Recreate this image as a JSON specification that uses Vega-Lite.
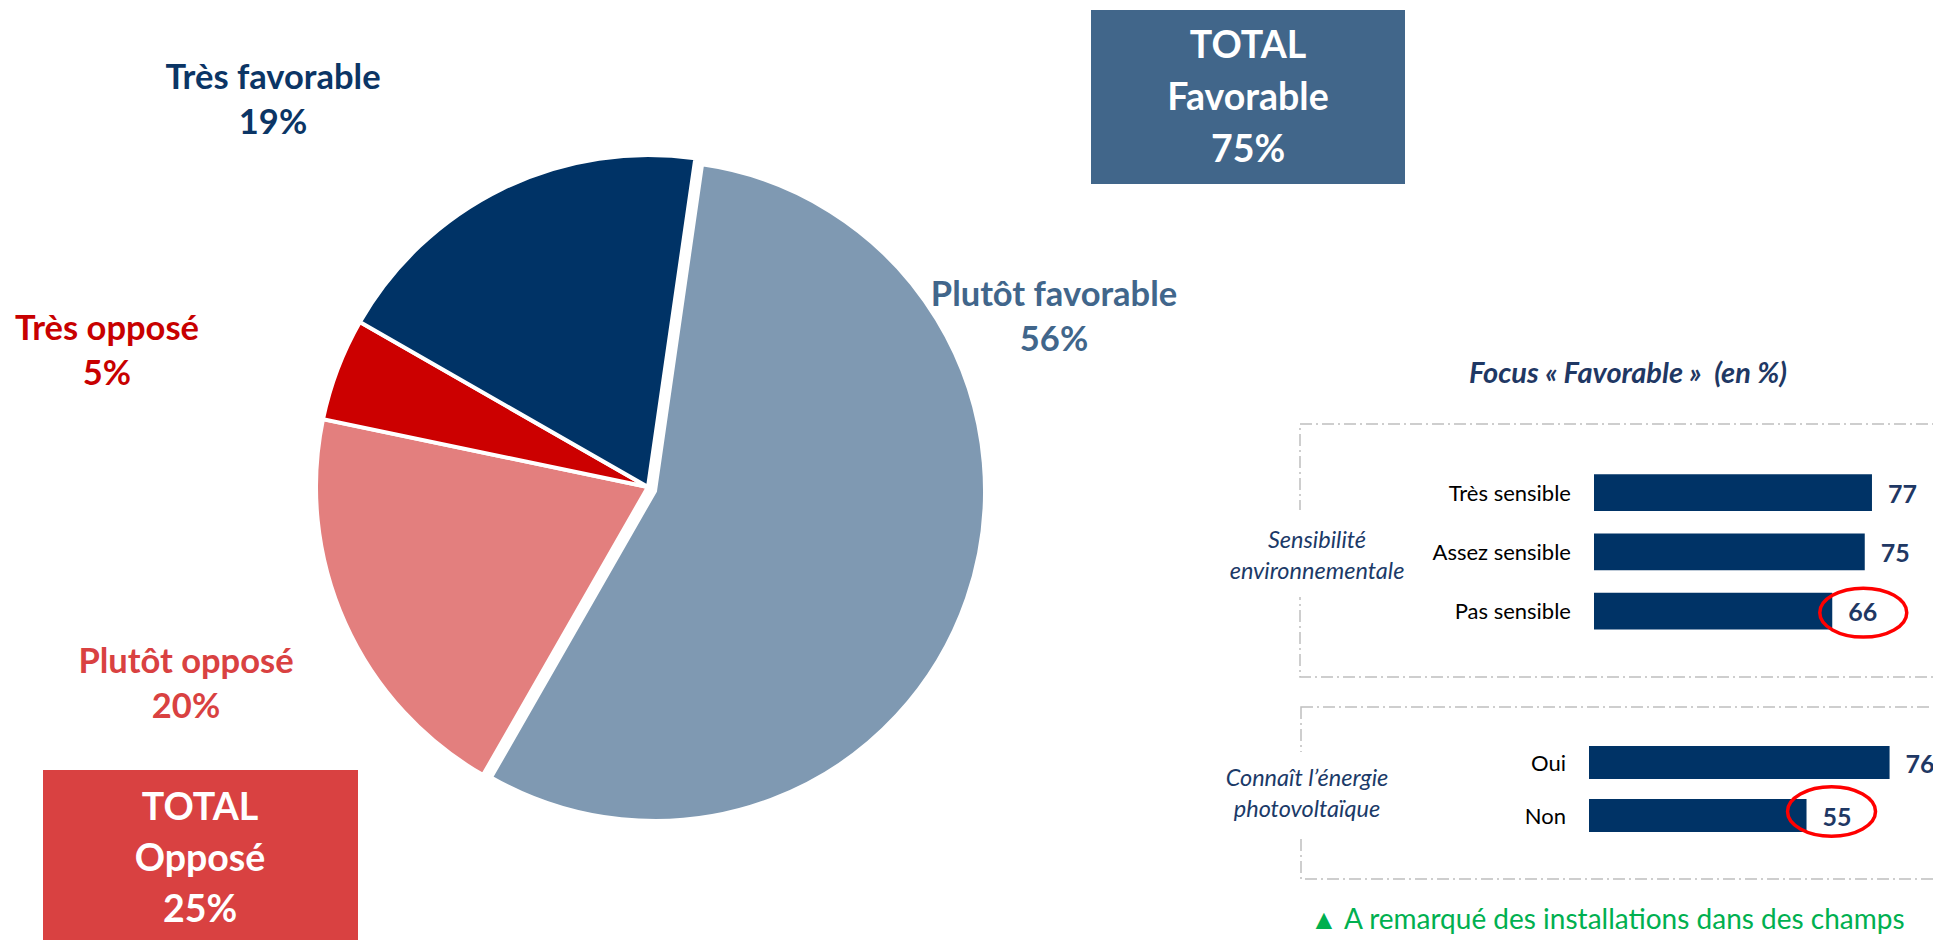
{
  "$schema": "https://vega.github.io/schema/vega-lite/v6.json",
  "width": 1933,
  "height": 940,
  "padding": 0,
  "autosize": {"type": "none"},
  "background": "white",
  "config": {"view": {"stroke": null}, "font": "Lato", "text": {"font": "Lato"}},
  "datasets": {
    "pie": [
      {"cat": "Plutôt favorable", "value": 56, "ord": 1},
      {"cat": "Plutôt opposé", "value": 20, "ord": 2},
      {"cat": "Très opposé", "value": 5, "ord": 3},
      {"cat": "Très favorable", "value": 19, "ord": 4}
    ],
    "totals": [
      {"group": "Favorable", "total": 75},
      {"group": "Opposé", "total": 25}
    ],
    "sens": [
      {"cat": "Très sensible", "value": 77},
      {"cat": "Assez sensible", "value": 75},
      {"cat": "Pas sensible", "value": 66}
    ],
    "pv": [
      {"cat": "Oui", "value": 76},
      {"cat": "Non", "value": 55}
    ]
  },
  "layer": [
    {"data": {"values": [{}]}, "mark": {"type": "rect", "x": 1300, "x2": 1960, "y": 424, "y2": 677, "fillOpacity": 0, "stroke": "#BFBFBF", "strokeWidth": 1.5, "strokeDash": [12, 4, 2, 4]}, "encoding": {}},
    {"data": {"values": [{}]}, "mark": {"type": "rect", "x": 1301, "x2": 1960, "y": 707, "y2": 879, "fillOpacity": 0, "stroke": "#BFBFBF", "strokeWidth": 1.5, "strokeDash": [12, 4, 2, 4]}, "encoding": {}},
    {"data": {"values": [{}]}, "mark": {"type": "rect", "x": 1290, "x2": 1312, "y": 510, "y2": 597, "fill": "white"}, "encoding": {}},
    {"data": {"values": [{}]}, "mark": {"type": "rect", "x": 1290, "x2": 1312, "y": 752, "y2": 835, "fill": "white"}, "encoding": {}},
    {
      "data": {"name": "pie"},
      "mark": {"type": "arc", "radius": 332, "x": 648, "y": 487, "stroke": "white", "strokeWidth": 4},
      "encoding": {
        "theta": {"field": "value", "type": "quantitative", "stack": true, "scale": {"domain": [0, 100], "range": [0.1431, 6.4263]}},
        "order": {"field": "ord", "type": "quantitative"},
        "color": {"field": "cat", "type": "nominal", "legend": null, "scale": {"domain": ["Plutôt favorable", "Plutôt opposé", "Très opposé", "Très favorable"], "range": ["#7F99B2", "#E37F7E", "#CC0000", "#003366"]}},
        "opacity": {"condition": {"test": "datum.cat === 'Plutôt favorable'", "value": 0}, "value": 1}
      }
    },
    {
      "data": {"name": "pie"},
      "mark": {"type": "arc", "radius": 330, "x": 655, "y": 491, "stroke": "white", "strokeWidth": 4},
      "encoding": {
        "theta": {"field": "value", "type": "quantitative", "stack": true, "scale": {"domain": [0, 100], "range": [0.1431, 6.4263]}},
        "order": {"field": "ord", "type": "quantitative"},
        "color": {"field": "cat", "type": "nominal", "legend": null, "scale": {"domain": ["Plutôt favorable", "Plutôt opposé", "Très opposé", "Très favorable"], "range": ["#7F99B2", "#E37F7E", "#CC0000", "#003366"]}},
        "opacity": {"condition": {"test": "datum.cat === 'Plutôt favorable'", "value": 1}, "value": 0}
      }
    },
    {
      "data": {"name": "pie"},
      "transform": [{"filter": "datum.cat === 'Très favorable'"}, {"calculate": "datum.cat + '\\n' + datum.value + '%'", "as": "label"}],
      "mark": {"type": "text", "x": 273, "y": 89, "align": "center", "baseline": "alphabetic", "lineBreak": "\n", "lineHeight": 45, "fontSize": 34.5, "fontWeight": "bold", "color": "#0B3565"},
      "encoding": {"text": {"field": "label"}}
    },
    {
      "data": {"name": "pie"},
      "transform": [{"filter": "datum.cat === 'Très opposé'"}, {"calculate": "datum.cat + '\\n' + datum.value + '%'", "as": "label"}],
      "mark": {"type": "text", "x": 107, "y": 340, "align": "center", "baseline": "alphabetic", "lineBreak": "\n", "lineHeight": 45, "fontSize": 34.5, "fontWeight": "bold", "color": "#C80000"},
      "encoding": {"text": {"field": "label"}}
    },
    {
      "data": {"name": "pie"},
      "transform": [{"filter": "datum.cat === 'Plutôt opposé'"}, {"calculate": "datum.cat + '\\n' + datum.value + '%'", "as": "label"}],
      "mark": {"type": "text", "x": 186, "y": 673, "align": "center", "baseline": "alphabetic", "lineBreak": "\n", "lineHeight": 45, "fontSize": 34.5, "fontWeight": "bold", "color": "#D94141"},
      "encoding": {"text": {"field": "label"}}
    },
    {
      "data": {"name": "pie"},
      "transform": [{"filter": "datum.cat === 'Plutôt favorable'"}, {"calculate": "datum.cat + '\\n' + datum.value + '%'", "as": "label"}],
      "mark": {"type": "text", "x": 1054, "y": 306, "align": "center", "baseline": "alphabetic", "lineBreak": "\n", "lineHeight": 45, "fontSize": 34.5, "fontWeight": "bold", "color": "#41668B"},
      "encoding": {"text": {"field": "label"}}
    },
    {"data": {"values": [{}]}, "mark": {"type": "rect", "x": 1091, "x2": 1405, "y": 10, "y2": 184, "fill": "#41668A"}, "encoding": {}},
    {"data": {"values": [{}]}, "mark": {"type": "rect", "x": 43, "x2": 358, "y": 770, "y2": 940, "fill": "#D94141"}, "encoding": {}},
    {
      "data": {"name": "totals"},
      "transform": [{"filter": "datum.group === 'Favorable'"}, {"calculate": "'TOTAL\\n' + datum.group + '\\n' + datum.total + '%'", "as": "label"}],
      "mark": {"type": "text", "x": 1248, "y": 58, "align": "center", "baseline": "alphabetic", "lineBreak": "\n", "lineHeight": 52, "fontSize": 37.5, "fontWeight": "bold", "color": "white"},
      "encoding": {"text": {"field": "label"}}
    },
    {
      "data": {"name": "totals"},
      "transform": [{"filter": "datum.group === 'Opposé'"}, {"calculate": "'TOTAL\\n' + datum.group + '\\n' + datum.total + '%'", "as": "label"}],
      "mark": {"type": "text", "x": 200, "y": 820, "align": "center", "baseline": "alphabetic", "lineBreak": "\n", "lineHeight": 51, "fontSize": 37.5, "fontWeight": "bold", "color": "white"},
      "encoding": {"text": {"field": "label"}}
    },
    {
      "data": {"values": [{"t": "Focus « Favorable » \u00a0(en %)"}]},
      "mark": {"type": "text", "x": 1628, "y": 383, "align": "center", "baseline": "alphabetic", "fontSize": 29, "fontWeight": "bold", "fontStyle": "italic", "color": "#1F3864"},
      "encoding": {"text": {"field": "t"}}
    },
    {
      "data": {"values": [{"t": "Sensibilité\nenvironnementale"}]},
      "mark": {"type": "text", "x": 1317, "y": 548, "align": "center", "baseline": "alphabetic", "lineBreak": "\n", "lineHeight": 31, "fontSize": 23.5, "fontStyle": "italic", "color": "#1B3A68"},
      "encoding": {"text": {"field": "t"}}
    },
    {
      "data": {"values": [{"t": "Connaît l’énergie\nphotovoltaïque"}]},
      "mark": {"type": "text", "x": 1307, "y": 786, "align": "center", "baseline": "alphabetic", "lineBreak": "\n", "lineHeight": 31, "fontSize": 23.5, "fontStyle": "italic", "color": "#1B3A68"},
      "encoding": {"text": {"field": "t"}}
    },
    {
      "data": {"name": "sens"},
      "mark": {"type": "bar", "color": "#003366"},
      "encoding": {
        "x": {"field": "value", "type": "quantitative", "scale": {"domain": [0, 100], "range": [1594, 1955]}, "axis": null},
        "y": {"field": "cat", "type": "nominal", "scale": {"domain": ["Très sensible", "Assez sensible", "Pas sensible"], "range": [463, 640.75], "paddingInner": 0.376, "paddingOuter": 0.188}, "axis": null}
      }
    },
    {
      "data": {"name": "sens"},
      "mark": {"type": "text", "align": "right", "baseline": "middle", "dx": -23, "dy": 1, "fontSize": 22, "color": "#000000"},
      "encoding": {
        "x": {"datum": 0, "type": "quantitative", "scale": {"domain": [0, 100], "range": [1594, 1955]}, "axis": null},
        "y": {"field": "cat", "type": "nominal", "scale": {"domain": ["Très sensible", "Assez sensible", "Pas sensible"], "range": [463, 640.75], "paddingInner": 0.376, "paddingOuter": 0.188}, "axis": null},
        "text": {"field": "cat"}
      }
    },
    {
      "data": {"name": "sens"},
      "mark": {"type": "text", "align": "left", "baseline": "middle", "dx": 16, "dy": 2, "fontSize": 25, "fontWeight": "bold", "color": "#1F3864"},
      "encoding": {
        "x": {"field": "value", "type": "quantitative", "scale": {"domain": [0, 100], "range": [1594, 1955]}, "axis": null},
        "y": {"field": "cat", "type": "nominal", "scale": {"domain": ["Très sensible", "Assez sensible", "Pas sensible"], "range": [463, 640.75], "paddingInner": 0.376, "paddingOuter": 0.188}, "axis": null},
        "text": {"field": "value", "type": "quantitative"}
      }
    },
    {
      "data": {"name": "sens"},
      "transform": [{"filter": "datum.cat === 'Pas sensible'"}],
      "mark": {"type": "point", "shape": "M -1 0 C -1 -0.311 -0.552 -0.563 0 -0.563 C 0.552 -0.563 1 -0.311 1 0 C 1 0.311 0.552 0.563 0 0.563 C -0.552 0.563 -1 0.311 -1 0 Z", "size": 7569, "filled": false, "stroke": "#FF0000", "strokeWidth": 3.5, "opacity": 1, "xOffset": 31, "yOffset": 1.5},
      "encoding": {
        "x": {"field": "value", "type": "quantitative", "scale": {"domain": [0, 100], "range": [1594, 1955]}, "axis": null},
        "y": {"field": "cat", "type": "nominal", "scale": {"domain": ["Très sensible", "Assez sensible", "Pas sensible"], "range": [463, 640.75], "paddingInner": 0.376, "paddingOuter": 0.188}, "axis": null}
      }
    },
    {
      "data": {"name": "pv"},
      "mark": {"type": "bar", "color": "#003366"},
      "encoding": {
        "x": {"field": "value", "type": "quantitative", "scale": {"domain": [0, 100], "range": [1589, 1984.5]}, "axis": null},
        "y": {"field": "cat", "type": "nominal", "scale": {"domain": ["Oui", "Non"], "range": [736, 842], "paddingInner": 0.377, "paddingOuter": 0.189}, "axis": null}
      }
    },
    {
      "data": {"name": "pv"},
      "mark": {"type": "text", "align": "right", "baseline": "middle", "dx": -23, "dy": 1, "fontSize": 22, "color": "#000000"},
      "encoding": {
        "x": {"datum": 0, "type": "quantitative", "scale": {"domain": [0, 100], "range": [1589, 1984.5]}, "axis": null},
        "y": {"field": "cat", "type": "nominal", "scale": {"domain": ["Oui", "Non"], "range": [736, 842], "paddingInner": 0.377, "paddingOuter": 0.189}, "axis": null},
        "text": {"field": "cat"}
      }
    },
    {
      "data": {"name": "pv"},
      "mark": {"type": "text", "align": "left", "baseline": "middle", "dx": 16, "dy": 2, "fontSize": 25, "fontWeight": "bold", "color": "#1F3864"},
      "encoding": {
        "x": {"field": "value", "type": "quantitative", "scale": {"domain": [0, 100], "range": [1589, 1984.5]}, "axis": null},
        "y": {"field": "cat", "type": "nominal", "scale": {"domain": ["Oui", "Non"], "range": [736, 842], "paddingInner": 0.377, "paddingOuter": 0.189}, "axis": null},
        "text": {"field": "value", "type": "quantitative"}
      }
    },
    {
      "data": {"name": "pv"},
      "transform": [{"filter": "datum.cat === 'Non'"}],
      "mark": {"type": "point", "shape": "M -1 0 C -1 -0.311 -0.552 -0.563 0 -0.563 C 0.552 -0.563 1 -0.311 1 0 C 1 0.311 0.552 0.563 0 0.563 C -0.552 0.563 -1 0.311 -1 0 Z", "size": 7744, "filled": false, "stroke": "#FF0000", "strokeWidth": 3.5, "opacity": 1, "xOffset": 25, "yOffset": -4},
      "encoding": {
        "x": {"field": "value", "type": "quantitative", "scale": {"domain": [0, 100], "range": [1589, 1984.5]}, "axis": null},
        "y": {"field": "cat", "type": "nominal", "scale": {"domain": ["Oui", "Non"], "range": [736, 842], "paddingInner": 0.377, "paddingOuter": 0.189}, "axis": null}
      }
    },
    {
      "data": {"values": [{"t": "▲ A remarqué des installations dans des champs"}]},
      "mark": {"type": "text", "x": 1310, "y": 929, "align": "left", "baseline": "alphabetic", "fontSize": 28, "color": "#00B050"},
      "encoding": {"text": {"field": "t"}}
    }
  ],
  "resolve": {"scale": {"x": "independent", "y": "independent", "theta": "independent", "color": "independent", "opacity": "independent"}}
}
